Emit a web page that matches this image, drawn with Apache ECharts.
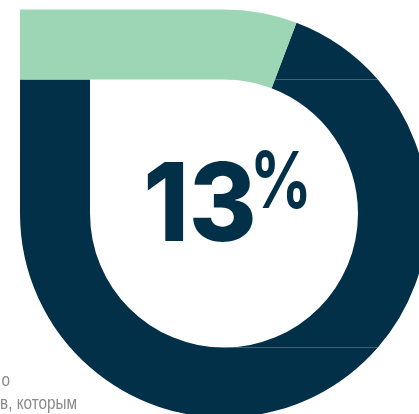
<!DOCTYPE html>
<html>
<head>
<meta charset="utf-8">
<script src="https://cdn.jsdelivr.net/npm/echarts@6/dist/echarts.min.js"></script>
<style>
  html, body { margin: 0; padding: 0; background: #ffffff; }
  #chart { width: 419px; height: 414px; }
</style>
</head>
<body>
<div id="chart"></div>
<script>
// ---- data ----
const progressValues = [13];          // percent shown by the green segment
const valueLabels = ['13'];           // big number
const unitLabels = ['%'];             // superscript unit
const noteLines = ['о', 'в, которым'];  // visible tail of the caption

const DARK = '#033049';
const GREEN = '#9dd6b4';
const NOTE_FONT = '18px "Liberation Sans Narrow", "Liberation Sans", sans-serif';

const chart = echarts.init(document.getElementById('chart'), null, { renderer: 'canvas' });

function renderItem(params, api) {
  const cs = params.coordSys;
  const cx = cs.cx, cy = cs.cy, R = cs.r, r0 = cs.r0;
  const v = api.value(1);
  const o = api.coord([api.value(0), v]); // outer edge of progress end
  const i = api.coord([0, v]);            // inner edge of progress end
  const xs = cx + Math.sqrt(R * R - r0 * r0);
  const t = (cy - r0 - o[1]) / (i[1] - o[1]);
  const e = [o[0] + t * (i[0] - o[0]), o[1] + t * (i[1] - o[1])];

  const green = `M ${cx - R} ${cy - R} L ${cx} ${cy - R} A ${R} ${R} 0 0 1 ${o[0]} ${o[1]} ` +
    `L ${i[0]} ${i[1]} A ${r0} ${r0} 0 0 0 ${cx} ${cy - r0} L ${cx - R} ${cy - r0} Z`;
  const p1 = `M ${o[0]} ${o[1]} A ${R} ${R} 0 0 1 ${xs} ${cy - r0} L ${e[0]} ${e[1]} Z`;
  const p2 = `M ${e[0]} ${e[1]} L ${xs} ${cy - r0} A ${R} ${R} 0 0 1 ${xs} ${cy + r0} ` +
    `L ${cx} ${cy + r0} A ${r0} ${r0} 0 0 0 ${i[0]} ${i[1]} Z`;
  const p3 = `M ${cx} ${cy + r0} L ${xs} ${cy + r0} A ${R} ${R} 0 0 1 ${cx - R} ${cy} ` +
    `L ${cx - R} ${cy - r0} L ${cx - r0} ${cy - r0} L ${cx - r0} ${cy} ` +
    `A ${r0} ${r0} 0 0 0 ${cx} ${cy + r0} Z`;

  const idx = params.dataIndex;
  return {
    type: 'group',
    children: [
      { type: 'path', shape: { pathData: p3 }, style: { fill: DARK } },
      { type: 'path', shape: { pathData: p2 }, style: { fill: DARK } },
      { type: 'path', shape: { pathData: p1 }, style: { fill: DARK } },
      { type: 'path', shape: { pathData: green }, style: { fill: GREEN } },
      {
        type: 'text',
        x: cx - 24, y: cy - 5, scaleX: 0.95, scaleY: 1,
        style: {
          text: valueLabels[idx], x: 0, y: 0,
          fill: DARK, font: '800 109px Inter',
          textAlign: 'center', textVerticalAlign: 'middle'
        }
      },
      {
        type: 'text',
        x: cx + 57, y: cy - 29, scaleX: 0.78, scaleY: 1,
        style: {
          text: unitLabels[idx], x: 0, y: 0,
          fill: DARK, font: '700 78px Inter',
          textAlign: 'center', textVerticalAlign: 'middle'
        }
      }
    ]
  };
}

chart.setOption({
  animation: false,
  polar: { center: [224, 213.5], radius: [134, 204] },
  radiusAxis: { type: 'value', min: 0, max: 1, show: false },
  angleAxis: { type: 'value', min: 0, max: 100, startAngle: 116, clockwise: true, show: false },
  graphic: [
    {
      type: 'text', x: 10, y: 381, scaleX: 0.85,
      style: { text: noteLines[0], fill: '#8a8a8a', font: NOTE_FONT, textAlign: 'right', textVerticalAlign: 'middle' }
    },
    {
      type: 'text', x: 0, y: 404, scaleX: 0.85,
      style: { text: noteLines[1], fill: '#8a8a8a', font: NOTE_FONT, textAlign: 'left', textVerticalAlign: 'middle' }
    }
  ],
  series: [{
    type: 'custom',
    coordinateSystem: 'polar',
    data: progressValues.map(v => [1, v]),
    encode: { radius: 0, angle: 1 },
    silent: true,
    renderItem: renderItem
  }]
});
</script>
</body>
</html>
